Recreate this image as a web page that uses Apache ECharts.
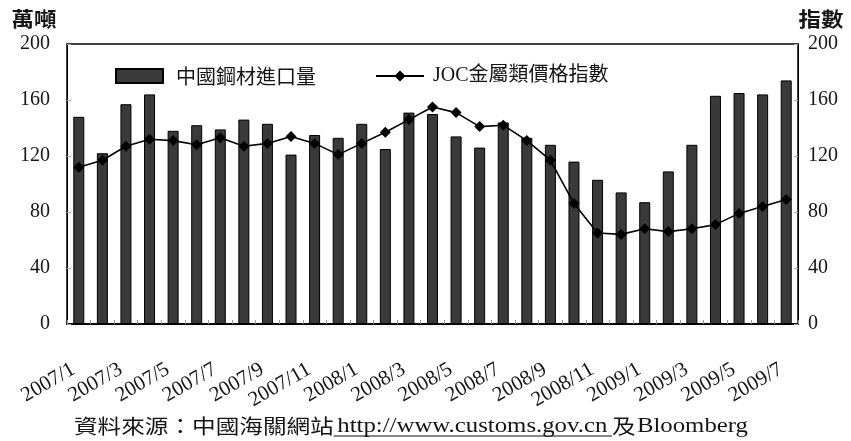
<!DOCTYPE html>
<html>
<head>
<meta charset="utf-8">
<script src="https://cdn.jsdelivr.net/npm/echarts@6/dist/echarts.min.js"></script>
<style>
  html, body { margin: 0; padding: 0; background: #fff; }
  #chart { width: 851px; height: 441px; }
</style>
</head>
<body>
<div id="chart"></div>
<script>
// Monthly categories, Jan 2007 – Jul 2009
const months = [
  '2007/1', '2007/2', '2007/3', '2007/4', '2007/5', '2007/6', '2007/7', '2007/8',
  '2007/9', '2007/10', '2007/11', '2007/12', '2008/1', '2008/2', '2008/3', '2008/4',
  '2008/5', '2008/6', '2008/7', '2008/8', '2008/9', '2008/10', '2008/11', '2008/12',
  '2009/1', '2009/2', '2009/3', '2009/4', '2009/5', '2009/6', '2009/7'
];

// China steel imports (10k tonnes) – left axis
const steelImports = [
  148, 122, 157, 164, 138, 142, 139, 146, 143, 121, 135, 133, 143, 125, 151, 150,
  134, 126, 144, 133, 128, 116, 103, 94, 87, 109, 128, 163, 165, 164, 174
];

// JOC metals price index – right axis
const jocIndex = [
  112, 117, 127, 132, 131, 128, 133, 127, 129, 134, 129, 121, 129, 137, 146, 155,
  151, 141, 142, 131, 117, 86, 65, 64, 68, 66, 68, 71, 79, 84, 89
];

const axisRange = { min: 0, max: 200, interval: 40 };

const barName = '中國鋼材進口量';
const lineName = 'JOC金屬類價格指數';
const leftUnit = '萬噸';
const rightUnit = '指數';
const sourceParts = ['資料來源：中國海關網站', 'http://www.customs.gov.cn', '及', 'Bloomberg'];

const SERIF = "'Liberation Serif', 'Times New Roman', serif";
const CJK = "'Noto Sans CJK TC', 'Noto Sans CJK SC', sans-serif";
const MIXED = "'Liberation Serif', 'Noto Sans CJK TC', serif";
const INK = '#151515';

// Measure text so the footer pieces can be laid out side by side
const measureCtx = document.createElement('canvas').getContext('2d');
function textWidth(str, font) {
  measureCtx.font = font;
  return measureCtx.measureText(str).width;
}

// Footer: source line, stretched slightly wider, with the URL underlined
function buildFooter() {
  const cjkFont = '20px ' + CJK;
  const serifFont = '21px ' + SERIF;
  const pieces = [
    { text: sourceParts[0], font: cjkFont, gapAfter: 3 },
    { text: sourceParts[1], font: serifFont, gapAfter: 4, underline: true },
    { text: sourceParts[2], font: cjkFont, gapAfter: 1 },
    { text: sourceParts[3], font: serifFont, gapAfter: 0 }
  ];
  const children = [];
  let x = 0;
  pieces.forEach(p => {
    const w = textWidth(p.text, p.font);
    children.push({
      type: 'text',
      x: x, y: 0,
      style: { text: p.text, font: p.font, fill: INK, textVerticalAlign: 'middle' }
    });
    if (p.underline) {
      children.push({
        type: 'line',
        shape: { x1: x - 3, y1: 10, x2: x + w + 4, y2: 10 },
        style: { stroke: INK, lineWidth: 1.2 }
      });
    }
    x += w + p.gapAfter;
  });
  const left = 74, right = 748;
  return {
    type: 'group',
    x: left, y: 426,
    scaleX: (right - left) / x,
    children: children
  };
}

const chart = echarts.init(document.getElementById('chart'), null, { renderer: 'canvas' });

const yAxisBase = {
  type: 'value',
  min: axisRange.min,
  max: axisRange.max,
  interval: axisRange.interval,
  splitLine: { show: false },
  axisLine: { show: true, lineStyle: { color: '#000', width: 1 } },
  axisTick: { show: true, inside: true, length: 4, lineStyle: { color: '#aaa' } },
  axisLabel: { fontFamily: SERIF, fontSize: 20, color: INK }
};

const option = {
  animation: false,
  backgroundColor: '#fff',
  grid: {
    left: 67, right: 53, top: 44, bottom: 117,
    show: true, borderColor: '#000', borderWidth: 1.5
  },
  legend: [
    {
      data: [{ name: barName, icon: 'rect' }],
      left: 110, top: 61,
      itemWidth: 47, itemHeight: 14,
      textStyle: { fontFamily: CJK, fontSize: 20, color: INK, padding: [0, 0, 0, 8] }
    },
    {
      data: [lineName],
      left: 370, top: 61,
      itemWidth: 48, itemHeight: 14,
      textStyle: { fontFamily: MIXED, fontSize: 20, color: INK, padding: [0, 0, 0, 4] }
    }
  ],
  xAxis: {
    type: 'category',
    data: months,
    boundaryGap: true,
    axisLine: { lineStyle: { color: '#000', width: 2 } },
    axisTick: { show: true, inside: true, interval: 0, length: 4, lineStyle: { color: '#999' } },
    axisLabel: {
      interval: 1,
      rotate: 30,
      margin: 41,
      padding: [0, 6, 0, 0],
      fontFamily: SERIF,
      fontSize: 21,
      color: INK
    }
  },
  yAxis: [
    Object.assign({}, yAxisBase, {
      position: 'left',
      axisLabel: Object.assign({}, yAxisBase.axisLabel, { margin: 17 })
    }),
    Object.assign({}, yAxisBase, {
      position: 'right',
      axisLabel: Object.assign({}, yAxisBase.axisLabel, { margin: 10 })
    })
  ],
  series: [
    {
      name: barName,
      type: 'bar',
      yAxisIndex: 0,
      data: steelImports,
      barWidth: 11,
      itemStyle: { color: '#3a3a3a', borderColor: '#000', borderWidth: 1 },
      z: 2
    },
    {
      name: lineName,
      type: 'line',
      yAxisIndex: 1,
      data: jocIndex,
      symbol: 'diamond',
      symbolSize: 11,
      lineStyle: { color: '#000', width: 1.6 },
      itemStyle: { color: '#000' },
      z: 3
    }
  ],
  graphic: [
    {
      type: 'text',
      x: 34, y: 19,
      scaleX: 1.12,
      style: {
        text: leftUnit, font: 'bold 20px ' + CJK, fill: INK,
        textAlign: 'center', textVerticalAlign: 'middle'
      }
    },
    {
      type: 'text',
      x: 821, y: 19,
      scaleX: 1.12,
      style: {
        text: rightUnit, font: 'bold 20px ' + CJK, fill: INK,
        textAlign: 'center', textVerticalAlign: 'middle'
      }
    },
    buildFooter()
  ]
};

chart.setOption(option);
</script>
</body>
</html>
